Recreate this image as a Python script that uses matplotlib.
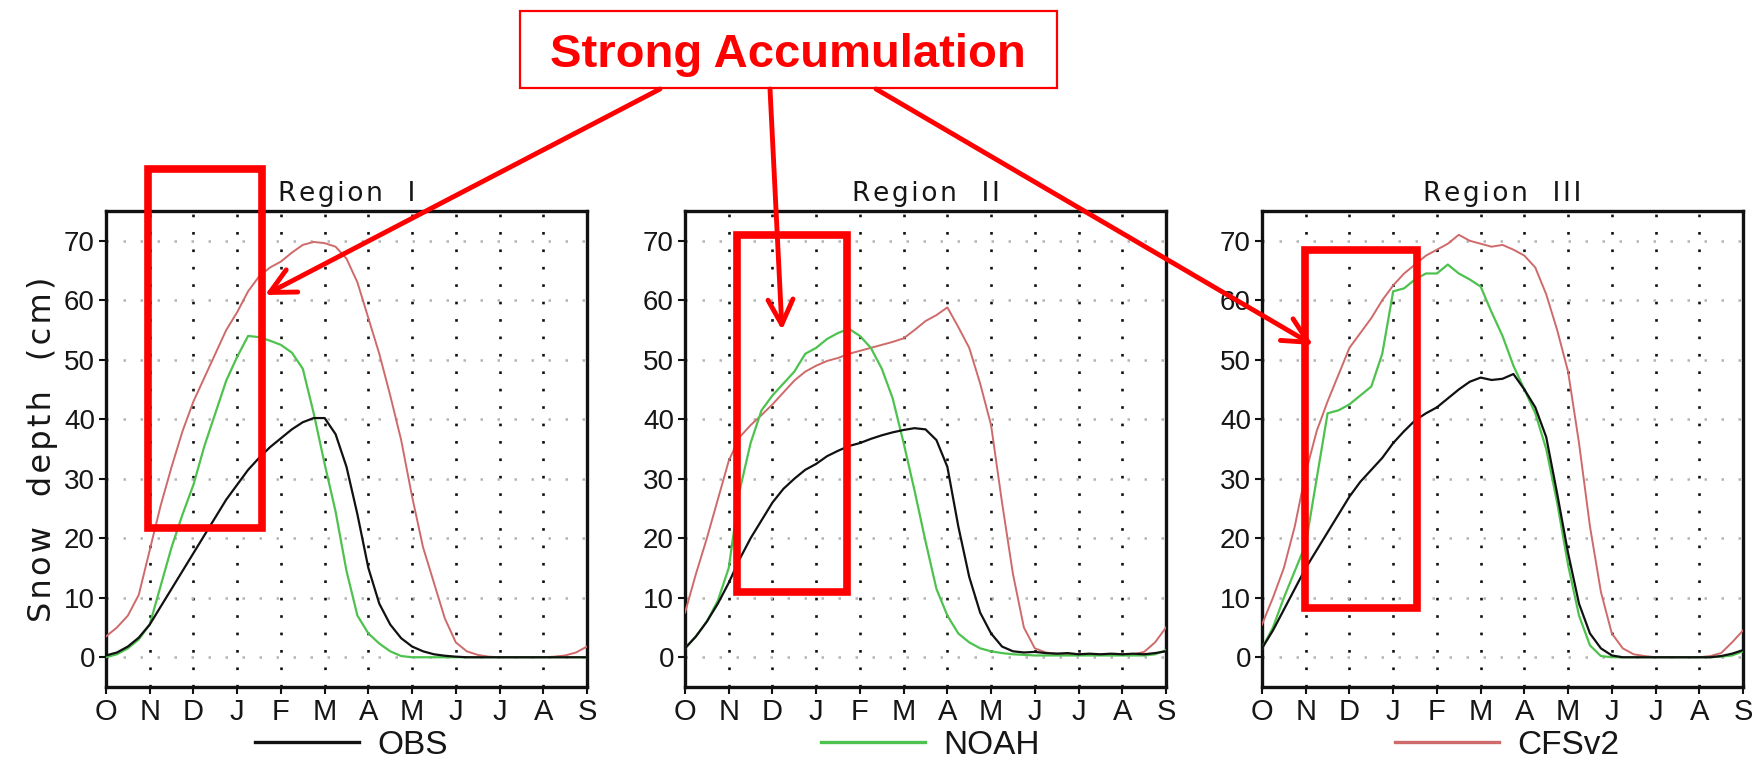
import numpy as np
import matplotlib
matplotlib.use("Agg")
import matplotlib.pyplot as plt
from matplotlib.patches import Rectangle, FancyArrowPatch
from matplotlib.lines import Line2D

# ---------------------------------------------------------------------------
# Data: climatological snow depth (cm), Oct 1 -> Sep 1, sampled every 1/4 month
# ---------------------------------------------------------------------------
months = np.arange(0, 11.01, 0.25)
month_labels = ["O", "N", "D", "J", "F", "M", "A", "M", "J", "J", "A", "S"]
region_titles = ["Region  I", "Region  II", "Region  III"]
series_names = ["OBS", "NOAH", "CFSv2"]

obs_r1 = [0.3, 0.8, 1.8, 3.3, 5.5, 8.5, 11.5, 14.5, 17.5, 20.5, 23.5, 26.5,
          29.0, 31.5, 33.5, 35.3, 36.8, 38.3, 39.5, 40.2, 40.2, 37.5, 32.0,
          24.0, 15.0, 9.0, 5.5, 3.2, 1.8, 1.0, 0.5, 0.25, 0.1,
          0, 0, 0, 0, 0, 0, 0, 0, 0, 0, 0, 0]
noah_r1 = [0.0, 0.5, 1.5, 3.0, 5.5, 12.0, 18.5, 24.0, 29.0, 35.5, 41.0, 46.5,
           50.5, 54.0, 53.8, 53.2, 52.5, 51.2, 48.5, 41.0, 32.5, 24.5, 14.5,
           7.0, 4.0, 2.3, 1.0, 0.2, 0.0,
           0, 0, 0, 0, 0, 0, 0, 0, 0, 0, 0, 0, 0, 0, 0, 0]
cfs_r1 = [3.5, 5.0, 7.0, 10.5, 18.0, 25.5, 32.0, 38.0, 43.0, 47.0, 51.0, 55.0,
          58.0, 61.5, 64.0, 65.5, 66.5, 68.0, 69.3, 69.8, 69.6, 69.0, 67.0,
          63.0, 57.0, 51.0, 44.0, 36.5, 27.0, 18.5, 12.5, 6.5, 2.5, 1.0, 0.4,
          0.1, 0.0, 0.0, 0.0, 0.0, 0.0, 0.1, 0.3, 0.8, 1.8]

obs_r2 = [1.5, 3.5, 6.0, 9.0, 12.5, 16.5, 20.0, 23.0, 26.0, 28.3, 30.0, 31.5,
          32.5, 33.8, 34.7, 35.5, 36.0, 36.7, 37.3, 37.8, 38.2, 38.5, 38.3,
          36.5, 32.0, 22.0, 13.5, 7.5, 4.0, 1.8, 1.0, 0.8, 0.9, 0.7, 0.6, 0.7,
          0.5, 0.6, 0.5, 0.6, 0.5, 0.6, 0.5, 0.7, 1.0]
noah_r2 = [1.5, 3.5, 6.0, 9.5, 15.0, 28.0, 36.0, 41.5, 44.0, 46.0, 48.0, 51.0,
           52.0, 53.5, 54.5, 55.2, 54.0, 52.0, 48.5, 43.5, 36.0, 28.0, 19.5,
           11.5, 7.0, 4.0, 2.5, 1.5, 1.0, 0.7, 0.5, 0.4, 0.3,
           0.3, 0.3, 0.3, 0.3, 0.3, 0.3, 0.3, 0.3, 0.3, 0.3, 0.5, 1.2]
cfs_r2 = [7.5, 14.0, 20.0, 26.5, 33.0, 37.0, 39.0, 40.7, 42.5, 44.5, 46.5, 48.0,
          49.0, 49.8, 50.3, 51.0, 51.5, 52.0, 52.5, 53.0, 53.6, 55.0, 56.5,
          57.5, 58.8, 55.5, 52.0, 46.0, 39.0, 26.0, 14.0, 5.0, 1.5, 0.8, 0.6,
          0.5, 0.5, 0.5, 0.4, 0.4, 0.4, 0.5, 0.9, 2.5, 5.0]

obs_r3 = [1.5, 4.5, 8.0, 11.5, 15.0, 18.0, 21.0, 24.0, 27.0, 29.5, 31.5, 33.5,
          36.0, 38.0, 39.8, 41.0, 42.0, 43.5, 45.0, 46.3, 47.0, 46.6, 46.8,
          47.6, 45.0, 42.0, 37.0, 27.5, 17.5, 9.0, 4.0, 1.5, 0.3,
          0, 0, 0, 0, 0, 0, 0, 0, 0, 0.2, 0.6, 1.2]
noah_r3 = [1.5, 5.0, 10.0, 14.5, 19.0, 30.0, 41.0, 41.5, 42.5, 44.0, 45.5, 51.0,
           61.5, 62.0, 63.5, 64.5, 64.5, 66.0, 64.5, 63.5, 62.3, 58.0, 54.0,
           49.0, 45.0, 41.0, 35.0, 26.0, 15.5, 7.0, 2.0, 0.2,
           0, 0, 0, 0, 0, 0, 0, 0, 0, 0, 0.1, 0.3, 1.0]
cfs_r3 = [5.5, 10.0, 15.0, 22.0, 31.0, 38.0, 43.0, 47.5, 52.0, 54.5, 57.0, 60.0,
          62.5, 64.5, 66.0, 67.5, 68.5, 69.5, 71.0, 70.0, 69.5, 69.0, 69.3,
          68.5, 67.5, 65.5, 61.0, 55.0, 48.0, 36.0, 22.0, 11.0, 4.0, 1.5, 0.5,
          0.2, 0.0, 0.0, 0.0, 0.0, 0.0, 0.2, 0.7, 2.5, 4.5]

obs_series = [obs_r1, obs_r2, obs_r3]
noah_series = [noah_r1, noah_r2, noah_r3]
cfs_series = [cfs_r1, cfs_r2, cfs_r3]

# highlighted early-season windows (month start, depth low, month end, depth high)
highlight_boxes = [(0.96, 21.8, 3.56, 82.0),
                   (1.18, 10.9, 3.71, 71.0),
                   (0.99, 8.3, 3.55, 68.5)]

# ---------------------------------------------------------------------------
# Styling
# ---------------------------------------------------------------------------
C_OBS, C_NOAH, C_CFS = "#111111", "#4ec24e", "#cf6a6a"
series_colors = [C_OBS, C_NOAH, C_CFS]
TICK_FONT = ["Liberation Sans", "DejaVu Sans"]
NARROW_FONT = ["Liberation Sans Narrow", "Liberation Sans", "DejaVu Sans"]
HAIR = "\u200a"


def spaced(s):
    return HAIR.join(s)


W, H = 1755, 762
fig = plt.figure(figsize=(W / 100, H / 100), dpi=100)
fig.patch.set_facecolor("white")

panel_left = [106, 685, 1262]
ax_w, ax_top, ax_bot = 481, 211, 687

for k in range(3):
    ax = fig.add_axes([panel_left[k] / W, 1 - ax_bot / H,
                       ax_w / W, (ax_bot - ax_top) / H])
    ax.set_xlim(0, 11)
    ax.set_ylim(-5, 75)

    # dotted grid: black for months, grey for depth levels
    for m in range(1, 11):
        ax.axvline(m, color="#111111", lw=1.9, ls=(0, (1, 5.6)), zorder=1)
    for v in range(0, 71, 10):
        ax.axhline(v, color="#b4b4b4", lw=1.8, ls=(0, (1, 5.8)), zorder=1)

    ax.plot(months, cfs_series[k], color=C_CFS, lw=1.4, zorder=3)
    ax.plot(months, noah_series[k], color=C_NOAH, lw=1.6, zorder=4)
    ax.plot(months, obs_series[k], color=C_OBS, lw=1.6, zorder=5)

    ax.set_xticks(range(12))
    ax.set_xticklabels(month_labels)
    ax.set_yticks(range(0, 71, 10))
    ax.tick_params(axis="both", direction="out", length=5, width=1.5,
                   color="#111111")
    ax.tick_params(axis="y", pad=3)
    ax.tick_params(axis="x", pad=3)
    for lab in ax.get_yticklabels():
        lab.set_family(TICK_FONT)
        lab.set_size(20)
        lab.set_color("#161616")
    for lab in ax.get_xticklabels():
        lab.set_family(NARROW_FONT)
        lab.set_size(21)
        lab.set_color("#161616")
    for sp in ax.spines.values():
        sp.set_linewidth(2.4)
        sp.set_color("#111111")

    ax.text(0.5, 1.008, spaced(region_titles[k]), transform=ax.transAxes,
            ha="center", va="bottom", fontsize=19, color="#161616",
            family="DejaVu Sans")

    x0, y0, x1, y1 = highlight_boxes[k]
    ax.add_patch(Rectangle((x0, y0), x1 - x0, y1 - y0, fill=False,
                           ec="#ff0000", lw=5.5, clip_on=False, zorder=10,
                           joinstyle="miter"))

    handle = Line2D([], [], color=series_colors[k], lw=2.4)
    leg = ax.legend([handle], [series_names[k]], loc="center",
                    bbox_to_anchor=(0.51, -0.122), frameon=False,
                    handlelength=3.1, handletextpad=0.55,
                    prop={"family": TICK_FONT, "size": 24})
    for t in leg.get_texts():
        t.set_color("#161616")

    if k == 0:
        ax.set_ylabel(spaced("Snow  depth  (cm)"), fontsize=23,
                      family="DejaVu Sans", color="#161616", labelpad=4)

# callout box with arrows
fig.add_artist(Rectangle((520 / W, 1 - 88 / H), 537 / W, 77 / H,
                         transform=fig.transFigure, fc="white", ec="#ff0000",
                         lw=1.6, zorder=5))
fig.text(788 / W, 1 - 67 / H, "Strong Accumulation", ha="center",
         va="baseline", fontsize=34, fontweight="bold", color="#ff0000",
         family=TICK_FONT, zorder=6)

arrow_paths = [((660, 89), (265, 295)),
               ((770, 89), (782, 330)),
               ((876, 89), (1313, 345))]
for (xa, ya), (xb, yb) in arrow_paths:
    fig.add_artist(FancyArrowPatch((xa / W, 1 - ya / H), (xb / W, 1 - yb / H),
                                   transform=fig.transFigure,
                                   arrowstyle="->,head_length=0.9,head_width=0.45",
                                   mutation_scale=20, lw=3.5, color="#ff0000",
                                   shrinkA=0, shrinkB=0, zorder=7))

fig.savefig("out.png", dpi=100, facecolor="white")
